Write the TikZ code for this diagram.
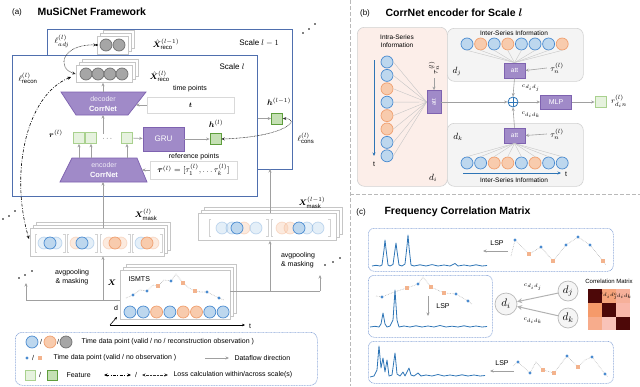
\documentclass[tikz,border=0pt]{standalone}
\usepackage{fontspec}
\setmainfont{Liberation Sans}
\usepackage{amsmath,bm}
\usetikzlibrary{arrows.meta,shadows,calc}
\definecolor{cbf}{HTML}{BDD7EE}
\definecolor{cbd}{HTML}{4A8BD0}
\definecolor{cof}{HTML}{F8CBAD}
\definecolor{cod}{HTML}{F0A070}
\definecolor{cgf}{HTML}{A6A6A6}
\definecolor{cgd}{HTML}{707070}
\definecolor{pf}{HTML}{A08AC8}
\definecolor{pd}{HTML}{7E62B0}
\definecolor{flf}{HTML}{E6F2DE}
\definecolor{fld}{HTML}{A9D18E}
\definecolor{fdf}{HTML}{C5E0B4}
\definecolor{fdd}{HTML}{5E9E3C}
\definecolor{frm}{HTML}{4F6FAE}
\definecolor{arr}{HTML}{A0A0A0}
\definecolor{spec}{HTML}{2E75B6}
\definecolor{dbord}{HTML}{8AA6D8}
\definecolor{pink}{HTML}{FCEEE9}
\definecolor{m1}{HTML}{4D0808}
\definecolor{m2}{HTML}{F5A37A}
\definecolor{m3}{HTML}{F6B09A}
\definecolor{m4}{HTML}{F59A6A}
\definecolor{m5}{HTML}{F9B8AA}
\definecolor{m6}{HTML}{F7AC8C}
\definecolor{m7}{HTML}{F9C3B9}
\tikzset{
 bcirc/.style={circle,draw=cbd,fill=cbf,line width=0.7pt,minimum size=12pt,inner sep=0pt},
 ocirc/.style={circle,draw=cod,fill=cof,line width=0.7pt,minimum size=12pt,inner sep=0pt},
 gcirc/.style={circle,draw=cgd,fill=cgf,line width=0.7pt,minimum size=12pt,inner sep=0pt},
 fb/.style={bcirc,fill opacity=0.4,draw opacity=0.3},
 fo/.style={ocirc,fill opacity=0.4,draw opacity=0.3},
 featL/.style={draw=fld,fill=flf,line width=0.7pt,minimum size=11pt,inner sep=0pt},
 featD/.style={draw=fdd,fill=fdf,line width=0.7pt,minimum size=11pt,inner sep=0pt},
 purp/.style={draw=pd,fill=pf,line width=0.7pt,text=white,inner sep=0pt},
 flow/.style={draw=arr,line width=0.6pt,-{Stealth[length=3.5pt,width=3pt]}},
 stackbox/.style={draw=gray!45,fill=white,line width=0.6pt,inner sep=0pt,
   double copy shadow={shadow xshift=3pt,shadow yshift=3pt,draw=gray!45,fill=white}},
 recon/.style={draw=black,line width=0.6pt,dash pattern=on 3pt off 1.5pt on 0.8pt off 1.5pt,
   {Stealth[length=3.5pt,width=3pt]}-{Stealth[length=3.5pt,width=3pt]}},
 lossd/.style={draw=black!80,line width=0.6pt,dash pattern=on 0.7pt off 0.7pt,
   {Stealth[length=3.5pt,width=3pt]}-{Stealth[length=3.5pt,width=3pt]}},
 bdot/.style={circle,fill=cbd,minimum size=3.4pt,inner sep=0pt},
 osq/.style={rectangle,fill=cod!80,minimum size=3.6pt,inner sep=0pt},
 tiny/.style={font=\fontsize{6.5}{7.5}\selectfont},
 mlab/.style={font=\fontsize{8}{9}\selectfont},
 cbox/.style={draw=dbord,line width=0.6pt,dash pattern=on 1pt off 0.6pt,rounded corners=6pt,inner sep=0pt},
 sbox/.style={draw=gray!35,line width=0.6pt,rounded corners=7pt,inner sep=0pt},
 spc/.style={draw=spec,line width=0.8pt,line join=round},
 tdot/.style={draw=gray!60,line width=0.6pt,dash pattern=on 0.6pt off 1pt},
 sep/.style={draw=gray!55,line width=0.6pt,dash pattern=on 4pt off 2pt},
 bar/.style={draw=gray!35,line width=0.5pt}
}
\begin{document}
\begin{tikzpicture}[x=1pt,y=-1pt,font=\fontsize{7}{8.4}\selectfont]
\useasboundingbox (0,0) rectangle (640,386);
% separators
\draw[sep] (350,0) -- (350,386);
\draw[sep] (350,194) -- (640,194);

%================ PANEL (a)
\node[font=\fontsize{8}{9}\selectfont] (lblA) at (17,12) {(a)};
\node[font=\bfseries\fontsize{10.5}{12}\selectfont,anchor=west] (ttlA) at (34,12) {MuSiCNet Framework};
\node[draw=frm,line width=0.8pt,minimum width=245pt,minimum height=140pt,anchor=north west] (scaleB) at (47,29) {};
\node[draw=frm,fill=white,line width=0.8pt,minimum width=245pt,minimum height=141pt,anchor=north west] (scaleA) at (12,55) {};
\node[font=\fontsize{8}{9}\selectfont] (sclB) at (259,43) {Scale $l-1$};
\node[font=\fontsize{8}{9}\selectfont] (sclA) at (232,67) {Scale $l$};
% continuation dots
\foreach \i/\x/\y in {1/303/33,2/309/29,3/315/24,4/3/219,5/9/216,6/15/211,7/19/278,8/25/275,9/32/271,10/325/265,11/333/262,12/340/258}
  \fill (\x,\y) circle (0.9pt) coordinate (dd\i);
% reco stacks
\node[stackbox,minimum width=31pt,minimum height=18pt] (recoB) at (112.5,45) {};
\node[gcirc] (gb1) at (106,45) {};
\node[gcirc] (gb2) at (119,45) {};
\node[stackbox,minimum width=56pt,minimum height=17pt] (recoA) at (104,74) {};
\foreach \i/\x in {1/86,2/98,3/110,4/122} \node[gcirc] (ga\i) at (\x,74) {};
\node[mlab,anchor=west] (xhB) at (149,44) {$\hat{\bm{X}}^{(l-1)}_{\mathrm{reco}}$};
\node[mlab,anchor=west] (xhA) at (146,76) {$\hat{\bm{X}}^{(l)}_{\mathrm{reco}}$};
\node[mlab] (ladj) at (62,41) {$\ell^{(l)}_{adj}$};
\node[mlab] (lrec) at (28,78) {$\ell^{(l)}_{\mathrm{recon}}$};
% decoder
\path[draw=pd,fill=pf,line width=0.7pt] (61,92) -- (146,92) -- (128,115) -- (76,115) -- cycle;
\coordinate (decT) at (103,92); \coordinate (decB) at (103,115); \coordinate (decR) at (136,105);
\node[text=white!85!pf] (decTx) at (103,99) {decoder};
\node[text=white,font=\bfseries\fontsize{7.5}{8}\selectfont] (decTx2) at (103,108.5) {CorrNet};
\draw[flow] (decT) -- (decT |- recoA.south);
% time points
\node (tpl) at (190,89) {time points};
\node[draw=gray!30,line width=0.6pt,fill=white,minimum width=87pt,minimum height=16pt] (tbox) at (190.5,105) {$\bm{t}$};
\draw[flow] (tbox.west) -- (decR);
% GRU & features
\node[purp,minimum width=41pt,minimum height=24pt,font=\fontsize{8}{9}\selectfont] (gru) at (163.5,139) {GRU};
\node[featL] (r1) at (79,138) {};
\node[featL] (r2) at (91,138) {};
\node (rdots) at (108,139) {$\cdots$};
\node[featL] (r3) at (127,138) {};
\node[mlab] (rlab) at (56,134) {$\bm{r}^{(l)}$};
\draw[flow] (r3) -- (gru);
\draw[flow] (decB |- rdots.north) -- (decB);
\node[featD] (hA) at (215.5,139) {};
\node[mlab] (hAl) at (216,124) {$\bm{h}^{(l)}$};
\draw[flow] (gru) -- (hA);
\node[featD] (hB) at (277,118.5) {};
\node[mlab] (hBl) at (279,102) {$\bm{h}^{(l-1)}$};
\draw[flow] (scaleA.east |- hB) -- (hB.west);
\node[mlab] (lcons) at (306,138) {$\ell^{(l)}_{\mathrm{cons}}$};
\draw[lossd] (hA.east) .. controls (285,137) and (302,119) .. (hB.east);
% encoder
\path[draw=pd,fill=pf,line width=0.7pt] (72,158) -- (137,158) -- (147,182) -- (60,182) -- cycle;
\coordinate (encT) at (103,158); \coordinate (encB) at (103,182); \coordinate (encR) at (142,170);
\node[text=white!85!pf] (encTx) at (104,165) {encoder};
\node[text=white,font=\bfseries\fontsize{7.5}{8}\selectfont] (encTx2) at (104,175) {CorrNet};
\foreach \r in {r1,r2,r3} \draw[flow] (\r.south |- encT) -- (\r.south);
\node (rpl) at (194,157) {reference points};
\node[draw=gray!30,line width=0.6pt,fill=white,minimum width=87pt,minimum height=16pt,mlab] (taubox) at (193.5,170) {$\bm{\tau}^{(l)}=[\tau^{(l)}_1,\dots\tau^{(l)}_k]$};
\draw[flow] (taubox.west) -- (encR);
% mask stacks
\node[stackbox,minimum width=134pt,minimum height=28pt] (maskA) at (97,242) {};
\node[mlab] (xmA) at (146,215) {$\bm{X}^{(l)}_{\mathrm{mask}}$};
\draw[flow] (encB |- maskA.north) -- (encB);
\foreach \cx/\la/\lb/\st [count=\k] in {50/fb/fb/bcirc,82/fo/fb/bcirc,115/fo/fo/ocirc,147/fb/fo/ocirc}{
  \draw[bar] (\cx-13,234) -- (\cx-15,234) -- (\cx-15,252) -- (\cx-13,252);
  \draw[bar] (\cx+13,234) -- (\cx+15,234) -- (\cx+15,252) -- (\cx+13,252);
  \node[\la] (mfa\k) at (\cx-6,243) {};
  \node[\lb] (mfb\k) at (\cx+6,243) {};
  \node[\st] (ms\k) at (\cx,243) {};
}
\node[stackbox,minimum width=138pt,minimum height=27pt] (maskB) at (267,227) {};
\node[mlab] (xmB) at (312,203) {$\bm{X}^{(l-1)}_{\mathrm{mask}}$};
\coordinate (sbIn) at (270,169);
\draw[flow] (maskB.north -| sbIn) -- (sbIn);
\draw[bar] (211,219) -- (209,219) -- (209,236) -- (211,236);
\draw[bar] (266,219) -- (268,219) -- (268,236) -- (266,236);
\draw[bar] (273,219) -- (271,219) -- (271,236) -- (273,236);
\draw[bar] (328,219) -- (330,219) -- (330,236) -- (328,236);
\foreach \x/\s [count=\k] in {222/fb,232/fb,244/fo,256/fb,282/fo,290/fo,307/fb,318/fb}
  \node[\s] (mbf\k) at (\x,228) {};
\node[bcirc] (mbs1) at (237,228) {};
\node[bcirc] (mbs2) at (299,228) {};
% ISMTS
\node[stackbox,minimum width=110pt,minimum height=49pt] (ism) at (175,294.5) {};
\node[anchor=west] (ismt) at (125,279) {ISMTS};
\node[mlab] (xlab) at (112,283) {$\bm{X}$};
\draw[tdot] (126,298) -- (133,295) -- (140,290) -- (147,291) -- (153,285) -- (158,286) -- (164,280) -- (171,281) -- (176,274) -- (183,283) -- (189,288) -- (195,291) -- (201,292) -- (207,292) -- (213,295) -- (219,298) -- (224,300);
\foreach \x/\y [count=\k] in {133/295,147/291,171/281,207/292,219/298} \node[bdot] (ib\k) at (\x,\y) {};
\foreach \x/\y [count=\k] in {158/286,183/283,195/291} \node[osq] (io\k) at (\x,\y) {};
\foreach \s [count=\k] in {bcirc,bcirc,ocirc,bcirc,ocirc,ocirc,bcirc,bcirc}
  \node[\s] (ic\k) at ({130+13.3*(\k-1)},312) {};
% axes
\coordinate (ax0) at (110,325);
\coordinate (axd) at (117,317);
\coordinate (axt) at (245,325);
\draw[-{Stealth[length=3pt,width=2.6pt]},line width=0.6pt] (ax0) -- (axd);
\draw[-{Stealth[length=3pt,width=2.6pt]},line width=0.6pt] (ax0) -- (axt);
\node (axdl) at (116,308) {d};
\node (axtl) at (250,326) {t};
% avgpooling flows
\coordinate (poolL) at (26,300); \coordinate (poolLe) at (26,283); \coordinate (poolLm) at (103,300);
\draw[draw=arr,line width=0.6pt] (ism.west |- poolL) -- (poolL);
\draw[flow] (poolL) -- (poolLe);
\draw[flow] (poolLm) -- (poolLm |- maskA.south);
\node[align=center] (apL) at (72,277) {avgpooling\\\& masking};
\coordinate (poolR) at (320,291); \coordinate (poolRe) at (320,275); \coordinate (poolRm) at (270,291);
\draw[draw=arr,line width=0.6pt] (ism.east |- poolR) -- (poolR);
\draw[flow] (poolR) -- (poolRe);
\draw[flow] (poolRm) -- (poolRm |- maskB.south);
\node[align=left] (apR) at (298,260) {avgpooling\\\& masking};
% loss curves
\draw[lossd] (recoB.west) .. controls (62,44) and (56,68) .. (recoA.west);
\fill (recoB.west) circle (1.1pt);
\draw[recon] (71,77) .. controls (25,96) and (10,175) .. (29,239);
% legend
\node[cbox,rounded corners=7pt,minimum width=302pt,minimum height=53pt,anchor=north west] (leg) at (15,332) {};
\node[bcirc] (lg1) at (32,342) {};
\node (lgs1) at (41,342) {/};
\node[ocirc] (lg2) at (50,342) {};
\node (lgs2) at (58,342) {/};
\node[gcirc] (lg3) at (66,342) {};
\node[anchor=west] (lgt1) at (78,342) {Time data point (valid / no / reconstruction observation )};
\node[bdot] (lg4) at (27,358) {};
\node (lgs3) at (33,358) {/};
\node[osq] (lg5) at (40,358) {};
\node[anchor=west] (lgt2) at (50,358) {Time data point (valid / no observation )};
\coordinate (lga1) at (205,358); \coordinate (lga2) at (229,358);
\draw[flow] (lga1) -- (lga2);
\node[anchor=west] (lgt3) at (231,358) {Dataflow direction};
\node[featL,minimum size=10pt] (lg6) at (30,375) {};
\node (lgs4) at (40,375) {/};
\node[featD,minimum size=10pt] (lg7) at (52,375) {};
\node[anchor=west] (lgt4) at (63,375) {Feature};
\coordinate (lgb1) at (104,375); \coordinate (lgb2) at (131,375);
\draw[recon] (lgb1) -- (lgb2);
\node (lgs5) at (136,375) {/};
\coordinate (lgc1) at (142,375); \coordinate (lgc2) at (168,375);
\draw[lossd] (lgc1) -- (lgc2);
\node[anchor=west] (lgt5) at (170,375) {Loss calculation within/across scale(s)};

%================ PANEL (b)
\node[font=\fontsize{8}{9}\selectfont] (lblB) at (365,13) {(b)};
\node[font=\bfseries\fontsize{10.5}{12}\selectfont,anchor=west] (ttlB) at (382,13) {CorrNet encoder for Scale $\bm{l}$};
\node[sbox,fill=pink,minimum width=90pt,minimum height=159pt,anchor=north west] (intra) at (357,27) {};
\node[sbox,fill=gray!9,minimum width=136pt,minimum height=53pt,anchor=north west] (interJ) at (447,28) {};
\node[sbox,fill=gray!9,minimum width=136pt,minimum height=63pt,anchor=north west] (interK) at (447,123) {};
\node[tiny,align=center] (intraT) at (397,41) {Intra-Series\\Information};
\node[tiny] (interJT) at (514,33) {Inter-Series Information};
\node[tiny] (interKT) at (514,180) {Inter-Series Information};
% intra
\node[purp,minimum width=14pt,minimum height=23pt,font=\fontsize{6}{7}\selectfont] (attI) at (434,102) {\rotatebox{90}{att}};
\foreach \s [count=\k] in {bcirc,bcirc,ocirc,bcirc,ocirc,ocirc,bcirc,bcirc}{
  \node[\s] (ci\k) at (387,{62+13.4*(\k-1)}) {};
  \draw[draw=gray!45,line width=0.4pt] (ci\k.east) -- (attI.west);
}
\coordinate (tI0) at (374,60); \coordinate (tI1) at (374,156);
\draw[draw=spec,line width=0.8pt,-{Stealth[length=3.5pt,width=3pt]}] (tI0) -- (tI1);
\node (tIl) at (374,164) {t};
\node[mlab,rotate=90] (tauI) at (434,68) {$\tau^{(l)}_n$};
\draw[flow] (tauI.west) -- (attI.north);
\node[font=\fontsize{9}{10}\selectfont] (diL) at (433,178) {$d_i$};
% plus & MLP
\node[circle,draw=spec,fill=white,line width=0.8pt,minimum size=10pt,inner sep=0pt] (plus) at (513,102) {};
\draw[draw=spec,line width=0.8pt] (plus.north) -- (plus.south) (plus.west) -- (plus.east);
\draw[flow] (attI.east) -- (plus.west);
\node[purp,minimum width=31pt,minimum height=14pt] (mlp) at (556,102) {MLP};
\draw[flow] (plus.east) -- (mlp.west);
\node[featL] (rout) at (600.5,102) {};
\draw[flow] (mlp.east) -- (rout.west);
\node[mlab] (routl) at (619,101) {$r^{(l)}_{d_in}$};
% inter j
\node[purp,minimum width=21pt,minimum height=15pt,font=\fontsize{6.5}{7}\selectfont] (attJ) at (514.5,70.5) {att};
\foreach \s [count=\k] in {bcirc,ocirc,bcirc,ocirc,bcirc,bcirc,bcirc,ocirc}{
  \node[\s] (cj\k) at ({467+13.6*(\k-1)},44) {};
  \draw[draw=gray!45,line width=0.4pt] (cj\k.south) -- (attJ.north);
}
\node[mlab] (tauJ) at (557,68) {$\tau^{(l)}_n$};
\draw[flow] (tauJ.west) -- (attJ.east);
\node[font=\fontsize{9}{10}\selectfont] (djL) at (457,71) {$d_j$};
\draw[flow] (attJ.south) -- (plus.north);
\node[font=\fontsize{6.5}{7}\selectfont] (cij) at (531,88) {$c_{d_id_j}$};
% inter k
\node[purp,minimum width=21pt,minimum height=15pt,font=\fontsize{6.5}{7}\selectfont] (attK) at (514.5,135.5) {att};
\foreach \s [count=\k] in {bcirc,bcirc,ocirc,ocirc,bcirc,ocirc,bcirc,bcirc}{
  \node[\s] (ck\k) at ({467+13.6*(\k-1)},163) {};
  \draw[draw=gray!45,line width=0.4pt] (ck\k.north) -- (attK.south);
}
\node[mlab] (tauK) at (557,134) {$\tau^{(l)}_n$};
\draw[flow] (tauK.west) -- (attK.east);
\node[font=\fontsize{9}{10}\selectfont] (dkL) at (458,137) {$d_k$};
\draw[flow] (attK.north) -- (plus.south);
\node[font=\fontsize{6.5}{7}\selectfont] (cik) at (531,115) {$c_{d_id_k}$};
\coordinate (tK0) at (463,173); \coordinate (tK1) at (561,173);
\draw[draw=spec,line width=0.8pt,-{Stealth[length=3.5pt,width=3pt]}] (tK0) -- (tK1);
\node (tKl) at (566,174) {t};

%================ PANEL (c)
\node[font=\fontsize{8}{9}\selectfont] (lblC) at (361,212) {(c)};
\node[font=\bfseries\fontsize{10.5}{12}\selectfont,anchor=west] (ttlC) at (381,212) {Frequency Correlation Matrix};
\node[cbox,minimum width=245pt,minimum height=43pt,anchor=north west] (bx1) at (368,228) {};
\node[cbox,minimum width=124pt,minimum height=62pt,anchor=north west] (bx2) at (368,275) {};
\node[cbox,minimum width=245pt,minimum height=42pt,anchor=north west] (bx3) at (368,341) {};
% box1
\draw[spc] (372,266) -- (376,265.3) -- (380,266) -- (382,265) -- (384,250) -- (385,240) -- (386,249) -- (388,265) -- (390,266) -- (393,264.5) -- (395,250) -- (396,243) -- (397,251) -- (399,265) -- (402,266) -- (405,264) -- (407,246) -- (408,235) -- (409,247) -- (411,265) -- (414,266) -- (420,264.8) -- (426,266) -- (432,264.6) -- (438,266) -- (444,265) -- (450,266) -- (455,263.5) -- (458,266) -- (464,265) -- (470,266) -- (476,264.8) -- (482,266) -- (487,265.5);
\node (lsp1) at (497,243) {LSP};
\coordinate (l1a) at (508,251); \coordinate (l1b) at (483,251);
\draw[flow] (l1a) -- (l1b);
\draw[tdot] (511,256) -- (515,240) -- (529,254) -- (541,247) -- (553,261) -- (566,245) -- (578,237) -- (590,245) -- (603,261) -- (606,265);
\foreach \x/\y [count=\k] in {515/240,541/247,566/245,578/237,590/245} \node[bdot] (c1b\k) at (\x,\y) {};
\foreach \x/\y [count=\k] in {529/254,553/261,603/261} \node[osq] (c1o\k) at (\x,\y) {};
% box2
\draw[tdot] (376,296) -- (382,297) -- (394,292) -- (407,288) -- (418,284) -- (423,277) -- (431,287) -- (444,293) -- (456,294) -- (468,301) -- (472,304);
\foreach \x/\y [count=\k] in {382/297,418/284,456/294,468/301} \node[bdot] (c2b\k) at (\x,\y) {};
\foreach \x/\y [count=\k] in {407/288,431/287,444/293} \node[osq] (c2o\k) at (\x,\y) {};
\coordinate (l2a) at (428,296); \coordinate (l2b) at (428,316);
\draw[flow] (l2a) -- (l2b);
\node (lsp2) at (443,306) {LSP};
\draw[spc] (370,327) -- (375,326.3) -- (379,327) -- (381,324) -- (383,313) -- (385,324) -- (387,327) -- (390,326) -- (393,320) -- (395,290) -- (397,320) -- (399,327) -- (404,326) -- (410,327) -- (416,325.8) -- (422,327) -- (428,326) -- (434,327) -- (440,325.5) -- (446,327) -- (452,326.2) -- (458,327) -- (464,325.8) -- (470,327) -- (476,326) -- (482,327) -- (487,326.5);
% box3
\draw[spc] (370,377) -- (374,376) -- (377,370) -- (379,346) -- (381,368) -- (383,358) -- (385,372) -- (387,360) -- (389,376) -- (392,375) -- (395,353) -- (397,374) -- (400,376) -- (403,372) -- (405,376) -- (409,368) -- (411,375) -- (414,376) -- (418,373) -- (421,376) -- (426,375) -- (432,376) -- (438,374.5) -- (444,376) -- (450,375) -- (456,376) -- (462,374.8) -- (468,376) -- (474,375) -- (480,376) -- (485,375.5);
\node (lsp3) at (502,363) {LSP};
\coordinate (l3a) at (514,371); \coordinate (l3b) at (490,371);
\draw[flow] (l3a) -- (l3b);
\draw[tdot] (513,366) -- (518,362) -- (530,373) -- (536,362) -- (543,370) -- (554,373) -- (560,365) -- (567,356) -- (578,367) -- (585,360) -- (592,357) -- (605,374) -- (608,377);
\foreach \x/\y [count=\k] in {518/362,530/373,567/356,592/357,605/374} \node[bdot] (c3b\k) at (\x,\y) {};
\foreach \x/\y [count=\k] in {543/370,554/373,578/367} \node[osq] (c3o\k) at (\x,\y) {};
% graph
\node[circle,draw=gray!55,fill=gray!8,line width=0.7pt,minimum size=22pt,inner sep=0pt,font=\fontsize{11}{12}\selectfont] (di) at (506,304) {$d_i$};
\node[circle,draw=gray!55,fill=gray!8,line width=0.7pt,minimum size=20pt,inner sep=0pt,font=\fontsize{11}{12}\selectfont] (dj) at (568,291) {$d_j$};
\node[circle,draw=gray!55,fill=gray!8,line width=0.7pt,minimum size=20pt,inner sep=0pt,font=\fontsize{11}{12}\selectfont] (dk) at (568,318) {$d_k$};
\draw[draw=gray!60,line width=1pt,-{Stealth[length=5pt,width=5pt]}] (dj) -- (di);
\draw[draw=gray!60,line width=1pt,-{Stealth[length=5pt,width=5pt]}] (dk) -- (di);
\node[font=\fontsize{6.5}{7}\selectfont] (cij2) at (533,287) {$c_{d_id_j}$};
\node[font=\fontsize{6.5}{7}\selectfont] (cik2) at (533,321) {$c_{d_id_k}$};
% matrix
\node[font=\fontsize{6}{7}\selectfont] (cml) at (609,281) {Correlation Matrix};
\foreach \c/\i/\j in {m1/0/0,m2/1/0,m3/2/0,m4/0/1,m1/1/1,m5/2/1,m6/0/2,m7/1/2,m1/2/2}
  \node[fill=\c,minimum width=14pt,minimum height=13.7pt,inner sep=0pt] (mx\i\j) at ({595+14*\i},{296+13.7*\j}) {};
\node[font=\fontsize{3}{3.5}\selectfont,inner sep=0pt] (mxl1) at (mx10) {$c_{d_id_j}$};
\node[font=\fontsize{3}{3.5}\selectfont,inner sep=0pt] (mxl2) at (mx20) {$c_{d_id_k}$};
\end{tikzpicture}
\end{document}
